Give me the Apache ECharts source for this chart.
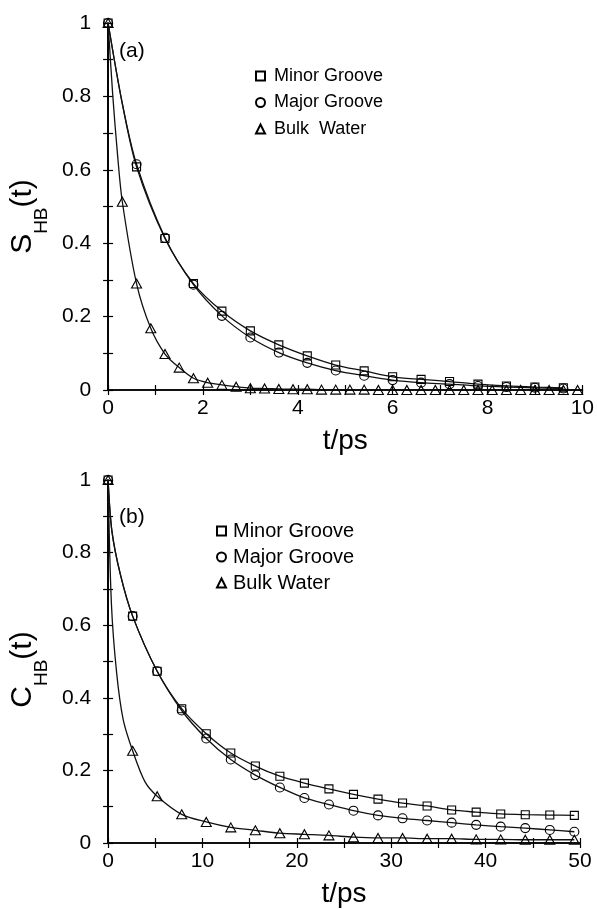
<!DOCTYPE html>
<html>
<head>
<meta charset="utf-8">
<script src="https://cdn.jsdelivr.net/npm/echarts@6/dist/echarts.min.js"></script>
<style>
html,body{margin:0;padding:0;background:#fff;}
#c{width:597px;height:909px;}
</style>
</head>
<body>
<div id="c"></div>
<script>
// ---------- Panel (a): S_HB(t), t in ps ----------
const topGrooveT = [0, 0.6, 1.2, 1.8, 2.4, 3.0, 3.6, 4.2, 4.8, 5.4, 6.0, 6.6, 7.2, 7.8, 8.4, 9.0, 9.6];
const topMinor   = [1, 0.608, 0.413, 0.290, 0.215, 0.161, 0.123, 0.093, 0.068, 0.052, 0.036, 0.029, 0.023, 0.016, 0.011, 0.008, 0.006];
const topMajor   = [1, 0.615, 0.415, 0.287, 0.202, 0.143, 0.102, 0.074, 0.053, 0.039, 0.027, 0.020, 0.016, 0.011, 0.008, 0.006, 0.004];
const topBulkT   = [0, 0.3, 0.6, 0.9, 1.2, 1.5, 1.8, 2.1, 2.4, 2.7, 3.0, 3.3, 3.6, 3.9, 4.2, 4.5, 4.8, 5.1, 5.4, 5.7,
                    6.0, 6.3, 6.6, 6.9, 7.2, 7.5, 7.8, 8.1, 8.4, 8.7, 9.0, 9.3, 9.6, 9.9];
const topBulk    = [1, 0.513, 0.290, 0.168, 0.098, 0.061, 0.032, 0.020, 0.014, 0.009, 0.005, 0.004, 0.003, 0.002, 0.002, 0.001, 0.001, 0.001, 0.001, 0,
                    0, 0, 0, 0, 0, 0, 0, 0, 0, 0, 0, 0, 0, 0];
// extra points (steep start)
const topGrooveFitT = [0.3];
const topMinorFit   = [0.78];
const topMajorFit   = [0.78];
const topBulkFitT   = [0.1, 0.2];
const topBulkFit    = [0.80, 0.64];

// ---------- Panel (b): C_HB(t), t in ps ----------
const botT     = [0, 2.6, 5.2, 7.8, 10.4, 13.0, 15.6, 18.2, 20.8, 23.4, 26.0, 28.6, 31.2, 33.8, 36.4, 39.0, 41.6, 44.2, 46.8, 49.4];
const botMinor = [1, 0.625, 0.473, 0.370, 0.301, 0.248, 0.212, 0.184, 0.165, 0.149, 0.134, 0.121, 0.110, 0.102, 0.091, 0.085, 0.080, 0.078, 0.077, 0.076];
const botMajor = [1, 0.625, 0.473, 0.365, 0.288, 0.230, 0.187, 0.153, 0.124, 0.106, 0.089, 0.076, 0.068, 0.062, 0.056, 0.050, 0.045, 0.041, 0.036, 0.031];
const botBulk  = [1, 0.254, 0.129, 0.079, 0.058, 0.043, 0.035, 0.027, 0.024, 0.021, 0.016, 0.014, 0.014, 0.012, 0.012, 0.010, 0.010, 0.009, 0.009, 0.009];
const botGrooveFitT = [0.4, 1.3];
const botMinorFit   = [0.86, 0.74];
const botMajorFit   = [0.86, 0.74];
const botBulkFitT   = [0.35, 0.9, 1.6, 3.9];
const botBulkFit    = [0.66, 0.47, 0.34, 0.169];

const seriesNames = ['Minor Groove', 'Major Groove', 'Bulk Water'];
const topLegendNames = ['Minor Groove', 'Major Groove', 'Bulk  Water'];

const FONT = '"Liberation Sans", Arial, Helvetica, sans-serif';

function pairs(t, v) { return t.map((x, i) => [x, v[i]]); }
function merged(t, v, ft, fv) { return pairs(t, v).concat(pairs(ft, fv)).sort((a, b) => a[0] - b[0]); }

function yFmt(v) {
  const k = Math.round(v * 10);
  if (k % 2) return '';
  if (k === 0) return '0';
  if (k === 10) return '1';
  return (k / 10).toFixed(1);
}

const axisLine = { show: true, lineStyle: { color: '#000', width: 1.7 } };
const tick = { show: true, inside: true, length: 5, lineStyle: { color: '#000', width: 1.2 } };

function xAxes(gridIndex, max, interval, labelEvery) {
  return [
    {
      type: 'value', gridIndex, min: 0, max, interval, position: 'bottom',
      axisLine, axisTick: tick, splitLine: { show: false },
      axisLabel: { color: '#000', fontSize: 21, fontFamily: FONT, margin: 8,
        formatter: v => (Math.round(v) % labelEvery === 0 ? String(Math.round(v)) : '') },
      name: 't/ps', nameLocation: 'middle', nameGap: 37,
      nameTextStyle: { color: '#000', fontSize: 28, fontFamily: FONT }
    },
    {
      type: 'value', gridIndex, min: 0, max, interval, position: 'top',
      axisLine, axisTick: tick, splitLine: { show: false }, axisLabel: { show: false }
    }
  ];
}

function yAxes(gridIndex, letter, shift) {
  return [
    {
      type: 'value', gridIndex, min: 0, max: 1, interval: 0.1, position: 'left',
      axisLine, axisTick: tick, splitLine: { show: false },
      axisLabel: { color: '#000', fontSize: 21, fontFamily: FONT, margin: 17, formatter: yFmt },
      name: '{s|' + letter + '}{b|HB}{s|(t)}', nameLocation: 'middle', nameRotate: 90, nameGap: 50,
      nameTextStyle: {
        color: '#000', fontFamily: FONT, padding: [0, shift, 0, 0],
        rich: {
          s: { fontSize: 30, lineHeight: 30, verticalAlign: 'top', fontFamily: FONT, color: '#000' },
          b: { fontSize: 19, lineHeight: 19, verticalAlign: 'top', padding: [24, 0, 0, 0], fontFamily: FONT, color: '#000' }
        }
      }
    },
    {
      type: 'value', gridIndex, min: 0, max: 1, interval: 0.1, position: 'right',
      axisLine, axisTick: tick, splitLine: { show: false }, axisLabel: { show: false }
    }
  ];
}

const symbols = ['rect', 'circle', 'triangle'];
const symSizes = [[8, 8], [9, 9], [10, 9]];

function panelSeries(xi, yi, markT, markSets, fitSets, names) {
  const out = [];
  fitSets.forEach((d, i) => {
    out.push({
      type: 'line', xAxisIndex: xi, yAxisIndex: yi, data: d, smooth: 0.3,
      showSymbol: false, symbol: 'none', silent: true, z: 2,
      lineStyle: { color: '#111', width: 1.3 }, legendHoverLink: false
    });
  });
  markSets.forEach((d, i) => {
    out.push({
      name: names[i], type: 'scatter', xAxisIndex: xi, yAxisIndex: yi,
      data: pairs(markT[i], d), symbol: symbols[i], symbolSize: symSizes[i], z: 3,
      itemStyle: { color: 'rgba(255,255,255,0)', borderColor: '#000', borderWidth: 1.1, opacity: 1 }
    });
  });
  return out;
}

const topSeries = panelSeries(0, 0,
  [topGrooveT, topGrooveT, topBulkT],
  [topMinor, topMajor, topBulk],
  [merged(topGrooveT, topMinor, topGrooveFitT, topMinorFit),
   merged(topGrooveT, topMajor, topGrooveFitT, topMajorFit),
   merged(topBulkT, topBulk, topBulkFitT, topBulkFit)],
  topLegendNames);

const botSeries = panelSeries(2, 2,
  [botT, botT, botT],
  [botMinor, botMajor, botBulk],
  [merged(botT, botMinor, botGrooveFitT, botMinorFit),
   merged(botT, botMajor, botGrooveFitT, botMajorFit),
   merged(botT, botBulk, botBulkFitT, botBulkFit)],
  seriesNames);

const chart = echarts.init(document.getElementById('c'), null, { renderer: 'canvas' });
chart.setOption({
  backgroundColor: '#fff',
  animation: false,
  textStyle: { fontFamily: FONT },
  grid: [
    { left: 100, right: 14, top: 23, bottom: 519, containLabel: false },
    { left: 101, right: 17, top: 480, bottom: 64, containLabel: false }
  ],
  title: [
    { text: '(a)', left: 114, top: 36, textStyle: { fontSize: 21, fontWeight: 'normal', color: '#000', fontFamily: FONT } },
    { text: '(b)', left: 114, top: 502, textStyle: { fontSize: 21, fontWeight: 'normal', color: '#000', fontFamily: FONT } }
  ],
  legend: [
    {
      data: topLegendNames, orient: 'vertical', left: 250, top: 62, itemWidth: 9, itemHeight: 9, itemGap: 8.5,
      selectedMode: false,
      textStyle: { fontSize: 18, color: '#000', fontFamily: FONT, padding: [0, 0, 0, 4] }
    },
    {
      data: seriesNames, orient: 'vertical', left: 211, top: 516, itemWidth: 9, itemHeight: 9, itemGap: 6,
      selectedMode: false,
      textStyle: { fontSize: 20, color: '#000', fontFamily: FONT, padding: [0, 0, 0, 2] }
    }
  ],
  xAxis: xAxes(0, 10, 1, 2).concat(xAxes(1, 50, 5, 10)),
  yAxis: yAxes(0, 'S', 20).concat(yAxes(1, 'C', 16)),
  series: topSeries.concat(botSeries)
});
</script>
</body>
</html>
